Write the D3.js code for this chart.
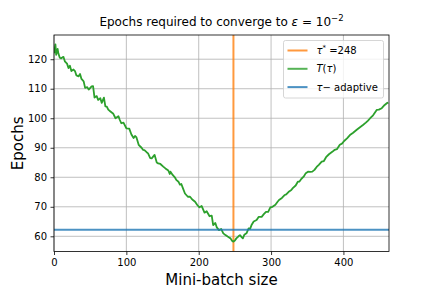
<!DOCTYPE html>
<html>
<head>
<meta charset="utf-8">
<script src="https://cdn.jsdelivr.net/npm/d3@7"></script>
<style>
body { margin: 0; background: #fff; }
text { font-family: "DejaVu Sans", sans-serif; fill: #000; }
</style>
</head>
<body>
<div id="chart"></div>
<script>
// mini-batch size (x) and epochs needed (T(tau))
var batch = [0,2,3,5,6,8,10,13,15,18,20,22,24,27,29,31,34,36,38,41,43,46,48,52,54,56,59,61,64,66,69,71,73,75,78,82,85,89,91,93,96,100,104,107,110,112,114,117,121,123,125,128,130,133,135,137,139,142,144,147,151,154,158,160,161,164,167,169,172,174,176,178,181,185,188,190,192,195,198,201,204,208,211,215,218,220,223,225,228,231,234,237,240,242,244,246,248,250,252,255,257,259,261,263,266,269,271,273,276,280,283,287,290,293,296,299,302,306,309,311,315,319,321,325,328,330,334,337,339,342,345,348,351,354,357,360,363,366,370,373,376,380,385,388,391,395,398,401,405,409,413,418,422,427,431,434,437,441,446,449,453,457,460,462];
var epochs = [122,125,121.5,123.5,122,120.5,120.3,120.8,119.3,118.5,117,117.8,116,116.5,116,114.5,114.2,115,113.3,112.5,110.3,110.5,109.7,110.8,110.9,107,107.5,106.2,106.8,105.2,107,104,103.9,102.9,102.3,101.5,100,100.7,99.4,98.3,98.5,96.6,96.5,94.5,93.3,94,93.5,91,90,89.3,89.2,88.5,88.1,86.5,86.4,87,87.6,85,84.7,84.5,83.6,83,82.3,81.1,81.9,80.8,80,79.1,78.5,77.5,77.7,76.4,74.5,73.4,73.4,72.8,72.3,71.7,70.6,69.8,70.3,68,68.5,66.8,67,63.8,64.5,63,62.1,62.5,61,60.4,59.9,59.6,59.3,58.5,58.2,58.6,59.3,60,60.4,59.8,59.3,60.5,61,62.7,62.5,63.8,65,65.5,66.6,66.6,67.5,68.3,68.3,69.8,70,70.7,71.7,72.3,73,74,74.2,75.2,75.7,76.3,77.2,78.5,78.5,79.5,80.2,81.4,81.9,81.8,81.9,82.5,83.5,84.2,85.3,85.5,86.8,87.8,88.7,89.3,89.5,91,91.4,92.3,93.2,94.3,95,96,96.8,97.7,98.5,99.2,100,101,102.8,102.9,103.4,104.5,105.1,105.3];
var tauStar = 248;
var adaptive = 62.2;
var xTicks = [0, 100, 200, 300, 400];
var yTicks = [60, 70, 80, 90, 100, 110, 120];

var W = 432, H = 288;
var margin = {left: 54, right: 43, top: 35, bottom: 36.5};
var width = W - margin.left - margin.right;
var height = H - margin.top - margin.bottom;

var svg = d3.select("#chart").append("svg")
    .attr("width", W).attr("height", H);

var g = svg.append("g")
    .attr("transform", `translate(${margin.left},${margin.top})`);

var x = d3.scaleLinear().domain([0, 463]).range([0, width]);
var y = d3.scaleLinear().domain([54.85, 128.2]).range([height, 0]);

// grid
g.append("g").selectAll("line").data(xTicks).enter().append("line")
    .attr("x1", d => x(d)).attr("x2", d => x(d))
    .attr("y1", 0).attr("y2", height)
    .attr("stroke", "#b0b0b0").attr("stroke-width", 0.8);
g.append("g").selectAll("line").data(yTicks).enter().append("line")
    .attr("y1", d => y(d)).attr("y2", d => y(d))
    .attr("x1", 0).attr("x2", width)
    .attr("stroke", "#b0b0b0").attr("stroke-width", 0.8);

var clip = g.append("clipPath").attr("id", "clip");
clip.append("rect").attr("width", width).attr("height", height);
var plot = g.append("g").attr("clip-path", "url(#clip)");

plot.append("line")
    .attr("x1", x(tauStar)).attr("x2", x(tauStar))
    .attr("y1", 0).attr("y2", height)
    .attr("stroke", "#ff7f0e").attr("stroke-opacity", 0.8).attr("stroke-width", 2);

var pts = batch.map((b, i) => [b, epochs[i]]);
plot.append("path").datum(pts)
    .attr("d", d3.line().x(d => x(d[0])).y(d => y(d[1])))
    .attr("fill", "none").attr("stroke", "#2ca02c").attr("stroke-width", 1.8)
    .attr("stroke-linejoin", "round");

plot.append("line")
    .attr("x1", 0).attr("x2", width)
    .attr("y1", y(adaptive)).attr("y2", y(adaptive))
    .attr("stroke", "#1f77b4").attr("stroke-opacity", 0.8).attr("stroke-width", 2);

// axes
var xAxis = g.append("g").attr("transform", `translate(0,${height})`)
    .call(d3.axisBottom(x).tickValues(xTicks).tickSize(3.5).tickPadding(3.5).tickFormat(d3.format("d")));
var yAxis = g.append("g")
    .call(d3.axisLeft(y).tickValues(yTicks).tickSize(3.5).tickPadding(3.5).tickFormat(d3.format("d")));
[xAxis, yAxis].forEach(a => {
    a.select(".domain").remove();
    a.selectAll("line").attr("stroke", "#000").attr("stroke-width", 0.8);
    a.selectAll("text").attr("font-size", "10px").attr("font-family", "DejaVu Sans").attr("fill", "#000");
});

g.append("rect").attr("width", width).attr("height", height)
    .attr("fill", "none").attr("stroke", "#000").attr("stroke-width", 0.8);

// labels
g.append("text")
    .attr("x", width / 2).attr("y", height + 33)
    .attr("text-anchor", "middle").attr("font-size", "15px")
    .text("Mini-batch size");

g.append("text")
    .attr("transform", `translate(${-31.5},${height / 2}) rotate(-90)`)
    .attr("text-anchor", "middle").attr("font-size", "15px")
    .text("Epochs");

var title = g.append("text")
    .attr("x", width / 2).attr("y", -9)
    .attr("text-anchor", "middle").attr("font-size", "12px");
title.append("tspan").text("Epochs required to converge to ");
title.append("tspan").attr("font-style", "italic").text("ε");
title.append("tspan").text(" = 10");
title.append("tspan").attr("font-size", "8.5px").attr("dy", -5).text("−2");

// legend
var leg = g.append("g").attr("transform", `translate(${width - 105.5},5.5)`);
leg.append("rect").attr("width", 100).attr("height", 57.5).attr("rx", 2)
    .attr("fill", "#fff").attr("fill-opacity", 0.8)
    .attr("stroke", "#cccccc").attr("stroke-width", 0.8);
var items = [
    {c: "#ff7f0e", o: 0.8, w: 2},
    {c: "#2ca02c", o: 0.8, w: 2},
    {c: "#1f77b4", o: 0.8, w: 2}
];
items.forEach(function(it, i) {
    var yy = 10 + i * 18.3;
    leg.append("line").attr("x1", 4).attr("x2", 24).attr("y1", yy).attr("y2", yy)
        .attr("stroke", it.c).attr("stroke-opacity", it.o).attr("stroke-width", it.w);
});
var t1 = leg.append("text").attr("x", 33).attr("y", 10 + 3.5).attr("font-size", "10px");
t1.append("tspan").attr("font-style", "italic").text("τ");
t1.append("tspan").attr("font-size", "7px").attr("dy", -4).text("*");
t1.append("tspan").attr("dy", 4).text(" =248");
var t2 = leg.append("text").attr("x", 33).attr("y", 28.3 + 3.5).attr("font-size", "10px");
t2.append("tspan").attr("font-style", "italic").text("T");
t2.append("tspan").text("(");
t2.append("tspan").attr("font-style", "italic").text("τ");
t2.append("tspan").text(")");
var t3 = leg.append("text").attr("x", 33).attr("y", 46.6 + 3.5).attr("font-size", "10px");
t3.append("tspan").attr("font-style", "italic").text("τ");
t3.append("tspan").text("− adaptive");
</script>
</body>
</html>
